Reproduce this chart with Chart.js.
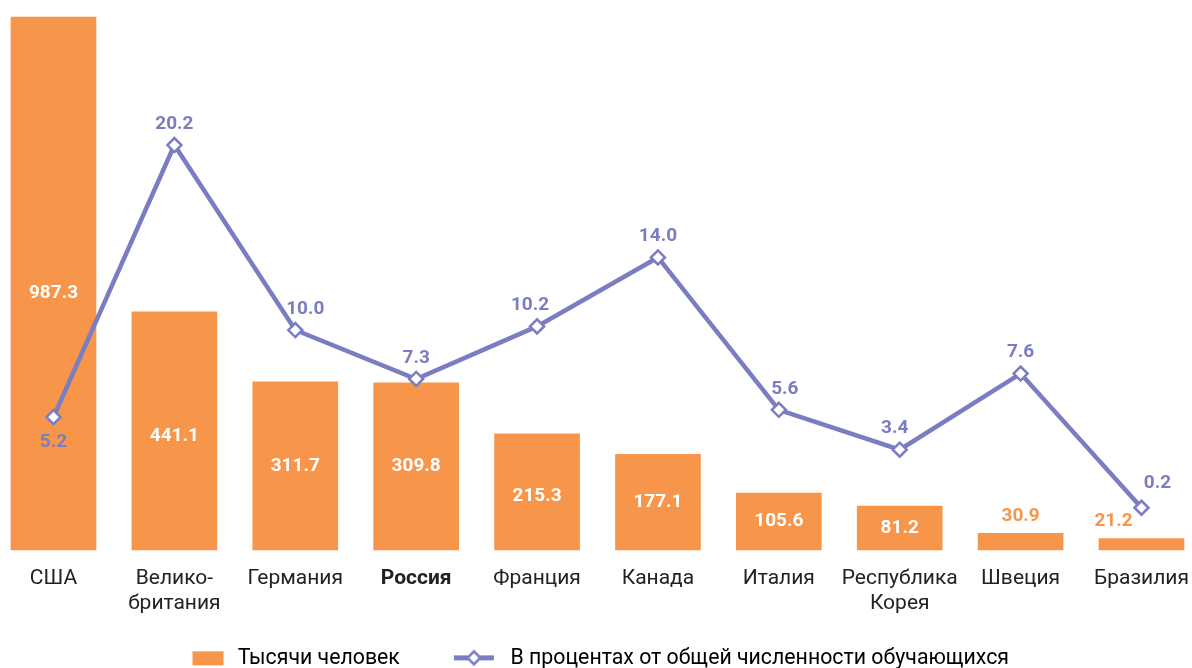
<!DOCTYPE html>
<html>
<head>
<meta charset="utf-8">
<script src="https://cdn.jsdelivr.net/npm/chart.js@4.4.1/dist/chart.umd.min.js"></script>
<style>
  html, body { margin: 0; padding: 0; background: #ffffff; overflow: hidden; }
  #wrap { width: 1192px; height: 668px; overflow: hidden; position: relative; }
  canvas { display: block; }
</style>
</head>
<body>
<div id="wrap"><canvas id="chart" width="1192" height="679"></canvas></div>
<script>
// Countries (multi-line labels as arrays)
const countries = ['США', ['Велико-', 'британия'], 'Германия', 'Россия', 'Франция', 'Канада', 'Италия', ['Республика', 'Корея'], 'Швеция', 'Бразилия'];
// Number of students, thousands
const thousands = [987.3, 441.1, 311.7, 309.8, 215.3, 177.1, 105.6, 81.2, 30.9, 21.2];
// Share of all students, percent
const sharePct = [5.2, 20.2, 10.0, 7.3, 10.2, 14.0, 5.6, 3.4, 7.6, 0.2];
// Series names
const seriesNames = ['Тысячи человек', 'В процентах от общей численности обучающихся'];
// Category shown in bold
const highlighted = 'Россия';

const ORANGE = '#F7964A';
const PURPLE = '#7A7DC1';
const TEXT = '#222222';
const FONT = 'Roboto';
const ICON_W = 70;

// Legend icons: an orange box and a line with a hollow diamond
function makeIcon(kind) {
  const W = ICON_W, H = 20;
  const c = document.createElement('canvas');
  c.width = W; c.height = H;
  const g = c.getContext('2d');
  if (kind === 'bar') {
    g.fillStyle = ORANGE;
    g.fillRect(35.5, 3, 31, 14);
  } else {
    const cy = 9.5, x0 = 24, x1 = 64, cx = (x0 + x1) / 2;
    g.strokeStyle = PURPLE;
    g.lineWidth = 5;
    g.beginPath(); g.moveTo(x0, cy); g.lineTo(x1, cy); g.stroke();
    g.beginPath();
    g.moveTo(cx, cy - 6.5); g.lineTo(cx + 6.5, cy); g.lineTo(cx, cy + 6.5); g.lineTo(cx - 6.5, cy); g.closePath();
    g.fillStyle = '#ffffff'; g.fill();
    g.lineWidth = 2.5; g.stroke();
  }
  return c;
}
const legendIcons = [makeIcon('bar'), makeIcon('line')];

// Value labels for bars and line points
const valueLabels = {
  id: 'valueLabels',
  afterDatasetsDraw(chart) {
    const ctx = chart.ctx;
    ctx.save();
    ctx.textAlign = 'center';
    ctx.textBaseline = 'middle';
    ctx.font = 'bold 19px ' + FONT;

    // bars: white inside tall bars, orange above short ones
    const barMeta = chart.getDatasetMeta(0);
    const barShift = { 0: 10, 1: 5, 4: 4 };
    barMeta.data.forEach((el, i) => {
      const v = chart.data.datasets[0].data[i];
      const txt = v.toFixed(1);
      const h = el.base - el.y;
      if (h > 30) {
        ctx.fillStyle = '#ffffff';
        ctx.fillText(txt, el.x, (el.y + el.base) / 2 + (barShift[i] || 0));
      } else {
        ctx.fillStyle = ORANGE;
        const dx = i === barMeta.data.length - 1 ? -28 : 0;
        ctx.fillText(txt, el.x + dx, el.y - 17);
      }
    });

    // line points: label above, nudged sideways to clear the line
    const lineMeta = chart.getDatasetMeta(1);
    const nudgeX = [0, 0, 10, 0, -7, 0, 6, -5, 0, 16];
    ctx.fillStyle = PURPLE;
    lineMeta.data.forEach((pt, i) => {
      const v = chart.data.datasets[1].data[i];
      const txt = v.toFixed(1);
      let dy = -21;
      if (i === 0) dy = 25;
      if (i === lineMeta.data.length - 1) dy = -24;
      ctx.fillText(txt, pt.x + nudgeX[i], pt.y + dy);
    });
    ctx.restore();
  }
};

new Chart(document.getElementById('chart'), {
  data: {
    labels: countries,
    datasets: [
      {
        type: 'bar',
        label: seriesNames[0],
        data: thousands,
        backgroundColor: ORANGE,
        borderWidth: 0,
        barThickness: 85,
        yAxisID: 'y',
        order: 2,
        clip: false
      },
      {
        type: 'line',
        label: seriesNames[1],
        data: sharePct,
        borderColor: PURPLE,
        borderWidth: 4.5,
        tension: 0,
        pointStyle: 'rectRot',
        pointRadius: 7,
        pointBackgroundColor: '#ffffff',
        pointBorderColor: PURPLE,
        pointBorderWidth: 2.5,
        yAxisID: 'y1',
        order: 1,
        clip: false
      }
    ]
  },
  options: {
    responsive: false,
    animation: false,
    events: [],
    layout: { padding: { left: 0, right: 26, top: 17, bottom: 0 } },
    scales: {
      x: {
        type: 'category',
        offset: false,
        grid: { display: false, drawTicks: false },
        border: { display: false },
        ticks: {
          autoSkip: false,
          maxRotation: 0,
          padding: 16.2,
          color: TEXT,
          font: (c) => ({
            family: FONT,
            size: 21,
            lineHeight: 1.2,
            weight: countries[c.index] === highlighted ? 'bold' : 'normal'
          })
        },
        afterFit: (s) => {
          s.height = 67.7;
          s.paddingLeft = 53.5;
          s.paddingRight = 50.5;
        }
      },
      y: { display: false, min: 0, max: 987.3 },
      y1: { display: false, min: -2.13, max: 27.26 }
    },
    plugins: {
      tooltip: { enabled: false },
      legend: {
        position: 'bottom',
        labels: {
          usePointStyle: true,
          pointStyleWidth: ICON_W,
          padding: 30,
          color: TEXT,
          font: { family: FONT, size: 21.3 },
          generateLabels: (chart) => chart.data.datasets.map((ds, i) => ({
            text: ds.label,
            pointStyle: legendIcons[i],
            fillStyle: i === 0 ? ORANGE : '#ffffff',
            strokeStyle: i === 0 ? ORANGE : PURPLE,
            lineWidth: 0,
            hidden: false,
            datasetIndex: i
          }))
        }
      }
    }
  },
  plugins: [valueLabels]
});
</script>
</body>
</html>
